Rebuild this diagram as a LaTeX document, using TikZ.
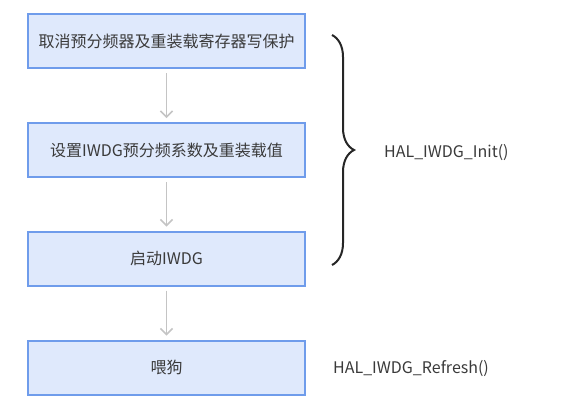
\documentclass[tikz,border=0pt]{standalone}
\usepackage{fontspec}
\setmainfont{Noto Sans CJK SC}
\usetikzlibrary{decorations.pathreplacing,arrows.meta}
\definecolor{boxfill}{HTML}{DFE9FC}
\definecolor{boxline}{HTML}{6F9CEB}
\definecolor{txt}{HTML}{3A3A3A}
\definecolor{arr}{HTML}{C4C4C4}
\tikzset{
  stepbox/.style={draw=boxline, fill=boxfill, line width=2pt, minimum width=277pt,
    minimum height=54pt, inner sep=0pt, text=txt, font=\fontsize{16}{19}\selectfont},
  flow/.style={draw=arr, line width=1.5pt, -{Straight Barb[length=6pt,width=12pt,line width=1.5pt]},
    shorten <=4pt, shorten >=4pt},
  funclabel/.style={anchor=west, inner sep=0pt, text=txt, font=\fontsize{16}{19}\selectfont},
  bracestyle/.style={draw=black!85, line width=2pt, decorate,
    decoration={brace, amplitude=22pt}}
}
\begin{document}
\begin{tikzpicture}[x=1pt,y=-1pt]
\useasboundingbox (0,0) rectangle (561,410);
\node[stepbox] (b1) at (166.5,41) {取消预分频器及重装载寄存器写保护};
\node[stepbox] (b2) at (166.5,150) {设置IWDG预分频系数及重装载值};
\node[stepbox] (b3) at (166.5,258.5) {启动IWDG};
\node[stepbox] (b4) at (166.5,367.5) {喂狗};
\draw[flow] (b1) -- (b2);
\draw[flow] (b2) -- (b3);
\draw[flow] (b3) -- (b4);
\coordinate (bt) at (332,35);
\coordinate (bb) at (332,265);
\draw[bracestyle] (bt) -- (bb);
\node[funclabel] (init) at (384,153) {HAL\_IWDG\_Init()};
\node[funclabel] (refresh) at (333,369) {HAL\_IWDG\_Refresh()};
\end{tikzpicture}
\end{document}
